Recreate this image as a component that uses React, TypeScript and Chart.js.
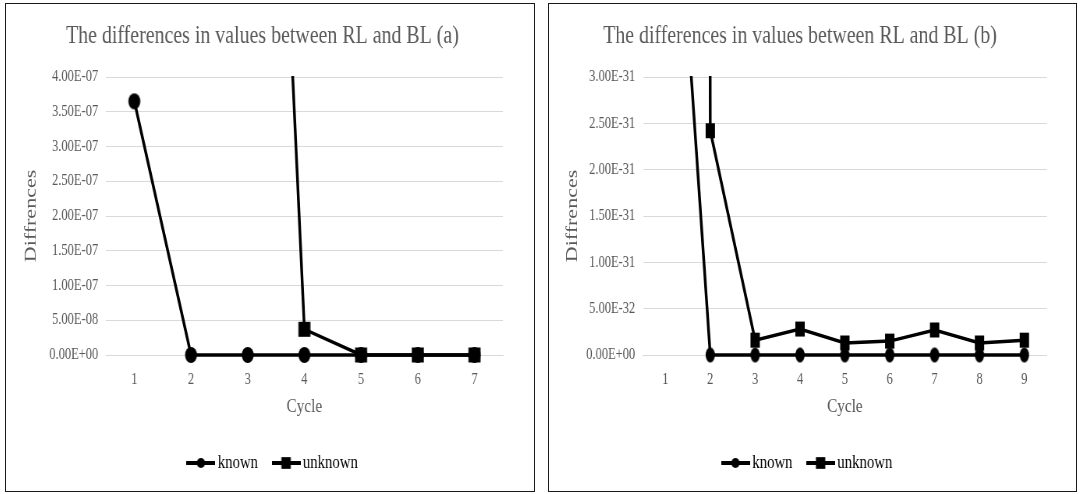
import React, { useEffect, useRef } from 'react';
import { Chart, registerables, LinearScale } from 'chart.js';

Chart.register(...registerables);

// Linear scale whose ticks come straight from a given list (avoids tick generation on tiny numbers)
class FixedTickScale extends LinearScale {
  static id = 'fixedTicks';
  buildTicks() {
    this.start = this.min;
    this.end = this.max;
    const list: number[] = (this.options as any).fixedTicks || [];
    return list.map((v) => ({ value: v }));
  }
}
Chart.register(FixedTickScale);

const FONT = "'Liberation Serif', 'Times New Roman', Times, serif";
const TEXT_COLOR = '#595959';
const GRID_COLOR = '#d9d9d9';

// ---------- Data: chart (a) ----------
const titleA = 'The differences in values between RL and BL (a)';
const cyclesA = ['1', '2', '3', '4', '5', '6', '7'];
const knownA = [3.65e-7, 0, 0, 0, 0, 0, 0];
const unknownA = [null, null, 1.8e-6, 3.7e-8, 0, 0, 0];
const yTicksA = [0, 5e-8, 1e-7, 1.5e-7, 2e-7, 2.5e-7, 3e-7, 3.5e-7, 4e-7];
const yLabelsA = ['0.00E+00', '5.00E-08', '1.00E-07', '1.50E-07', '2.00E-07', '2.50E-07', '3.00E-07', '3.50E-07', '4.00E-07'];

// ---------- Data: chart (b) ----------
const titleB = 'The differences in values between RL and BL (b)';
const cyclesB = ['1', '2', '3', '4', '5', '6', '7', '8', '9'];
const knownB = [7.1e-31, 0, 0, 0, 0, 0, 0, 0, 0];
const unknownB = [5e-29, 2.42e-31, 1.6e-32, 2.8e-32, 1.3e-32, 1.5e-32, 2.7e-32, 1.3e-32, 1.6e-32];
const yTicksB = [0, 5e-32, 1e-31, 1.5e-31, 2e-31, 2.5e-31, 3e-31];
const yLabelsB = ['0.00E+00', '5.00E-32', '1.00E-31', '1.50E-31', '2.00E-31', '2.50E-31', '3.00E-31'];

const seriesNames = ['known', 'unknown'];
const xTitle = 'Cycle';
const yTitle = 'Diffrences';

function makeMarker(shape: 'circle' | 'square', w: number, h: number) {
  const c = document.createElement('canvas');
  c.width = Math.ceil(w) + 2;
  c.height = Math.ceil(h) + 2;
  const ctx = c.getContext('2d')!;
  ctx.fillStyle = '#000';
  if (shape === 'circle') {
    ctx.beginPath();
    ctx.ellipse(c.width / 2, c.height / 2, w / 2, h / 2, 0, 0, Math.PI * 2);
    ctx.fill();
  } else {
    ctx.fillRect((c.width - w) / 2, (c.height - h) / 2, w, h);
  }
  return c;
}

function makeLegendIcon(shape: 'circle' | 'square', len: number, mw: number, mh: number) {
  const c = document.createElement('canvas');
  c.width = Math.ceil(len);
  c.height = 16;
  const ctx = c.getContext('2d')!;
  ctx.fillStyle = '#000';
  ctx.fillRect(0, c.height / 2 - 2, len, 4);
  if (shape === 'circle') {
    ctx.beginPath();
    ctx.ellipse(len / 2, c.height / 2, mw / 2, mh / 2, 0, 0, Math.PI * 2);
    ctx.fill();
  } else {
    ctx.fillRect(len / 2 - mw / 2, c.height / 2 - mh / 2, mw, mh);
  }
  return c;
}

type PanelProps = {
  title: string;
  categories: string[];
  known: (number | null)[];
  unknown: (number | null)[];
  yTicks: number[];
  yLabels: string[];
  boxLeft: number;
  innerW: number;
  canvasW: number;
  padRight: number;
  yWidth: number;
  yTitlePad: number;
  titleShift: number;
  legendShift: number;
  circle: [number, number];
  square: [number, number];
};

const H = 487;
const CLIP = { left: 30, right: 30, top: 1, bottom: 30 };

function Panel(p: PanelProps) {
  const ref = useRef<HTMLCanvasElement | null>(null);
  useEffect(() => {
    if (!ref.current) return;
    const circleImg = makeMarker('circle', p.circle[0], p.circle[1]);
    const squareImg = makeMarker('square', p.square[0], p.square[1]);
    const legendKnown = makeLegendIcon('circle', 37, 10.7, 10);
    const legendUnknown = makeLegendIcon('square', 37, 12, 11.7);
    const shiftPlugin = {
      id: 'shiftBoxes',
      afterLayout(chart: any) {
        const t = chart.titleBlock;
        if (t) { t.left += p.titleShift; t.right += p.titleShift; }
        const l = chart.legend;
        if (l) { l.left += p.legendShift; l.right += p.legendShift; }
      },
    };
    const chart = new Chart(ref.current, {
      type: 'line',
      data: {
        labels: p.categories,
        datasets: [
          {
            label: seriesNames[0],
            data: p.known,
            borderColor: '#000',
            backgroundColor: '#000',
            borderWidth: 3.5,
            pointStyle: circleImg as any,
            pointRadius: 8,
            pointHoverRadius: 8,
            tension: 0,
            order: 1,
            clip: CLIP,
          },
          {
            label: seriesNames[1],
            data: p.unknown,
            borderColor: '#000',
            backgroundColor: '#000',
            borderWidth: 3.5,
            pointStyle: squareImg as any,
            pointRadius: 8,
            pointHoverRadius: 8,
            tension: 0,
            order: 0,
            clip: CLIP,
          },
        ],
      },
      options: {
        responsive: false,
        animation: false,
        events: [],
        layout: { padding: { left: 0, right: p.padRight, top: 0, bottom: 8.5 } },
        plugins: {
          title: {
            display: true,
            text: p.title,
            color: TEXT_COLOR,
            font: { family: FONT, size: 25.5, weight: 'normal' },
            padding: { top: 16.5, bottom: 25.9 },
          },
          legend: {
            position: 'bottom',
            labels: {
              usePointStyle: true,
              pointStyleWidth: 24,
              padding: 24,
              color: TEXT_COLOR,
              font: { family: FONT, size: 19 },
              generateLabels: () => [
                { text: seriesNames[0], fillStyle: '#000', strokeStyle: '#000', lineWidth: 0, hidden: false, datasetIndex: 0, pointStyle: legendKnown as any, rotation: 0 },
                { text: seriesNames[1], fillStyle: '#000', strokeStyle: '#000', lineWidth: 0, hidden: false, datasetIndex: 1, pointStyle: legendUnknown as any, rotation: 0 },
              ],
            },
          },
          tooltip: { enabled: false },
        },
        scales: {
          x: {
            type: 'category',
            offset: true,
            grid: { display: true, drawOnChartArea: false, drawTicks: false },
            border: { display: true, color: GRID_COLOR, width: 1 },
            ticks: { color: TEXT_COLOR, font: { family: FONT, size: 16 }, padding: 15, maxRotation: 0, autoSkip: false },
            title: { display: true, text: xTitle, color: TEXT_COLOR, font: { family: FONT, size: 19.5 }, padding: { top: 0, bottom: 10.5 } },
            afterFit: (s: any) => { s.height = 74.5; },
          },
          y: {
            type: 'fixedTicks' as any,
            fixedTicks: p.yTicks,
            min: p.yTicks[0],
            max: p.yTicks[p.yTicks.length - 1],
            grid: { color: GRID_COLOR, lineWidth: 1, drawTicks: false },
            border: { display: false },
            ticks: {
              color: TEXT_COLOR,
              font: { family: FONT, size: 16 },
              padding: 10,
              callback: (_v: any, i: number) => p.yLabels[i] ?? '',
            },
            title: { display: true, text: yTitle, color: TEXT_COLOR, font: { family: FONT, size: 22 }, padding: { top: p.yTitlePad, bottom: 0 } },
            afterFit: (s: any) => { s.width = p.yWidth; },
          } as any,
        },
      } as any,
      plugins: [shiftPlugin],
    });
    return () => chart.destroy();
  }, []);

  const scale = p.innerW / p.canvasW;
  return (
    <div
      style={{
        position: 'absolute',
        left: p.boxLeft,
        top: 3,
        width: p.innerW,
        height: H,
        border: '1px solid #1a1a1a',
        overflow: 'hidden',
        background: '#fff',
      }}
    >
      <canvas
        ref={ref}
        width={p.canvasW}
        height={H}
        style={{
          display: 'block',
          width: p.canvasW,
          height: H,
          transform: `scaleX(${scale})`,
          transformOrigin: '0 0',
        }}
      />
    </div>
  );
}

export default function App() {
  return (
    <div style={{ position: 'absolute', left: 0, top: 0, width: 1080, height: 494, background: '#fff', fontFamily: FONT }}>
      <Panel
        title={titleA}
        categories={cyclesA}
        known={knownA}
        unknown={unknownA}
        yTicks={yTicksA}
        yLabels={yLabelsA}
        boxLeft={5}
        innerW={528}
        canvasW={677}
        padRight={40}
        yWidth={128.2}
        yTitlePad={18.7}
        titleShift={10.3}
        legendShift={26.1}
        circle={[15.4, 16]}
        square={[15.4, 15]}
      />
      <Panel
        title={titleB}
        categories={cyclesB}
        known={knownB}
        unknown={unknownB}
        yTicks={yTicksB}
        yLabels={yLabelsB}
        boxLeft={548}
        innerW={527}
        canvasW={676}
        padRight={37.5}
        yWidth={120.5}
        yTitlePad={17}
        titleShift={2.7}
        legendShift={14.6}
        circle={[12, 15]}
        square={[12, 15]}
      />
    </div>
  );
}
